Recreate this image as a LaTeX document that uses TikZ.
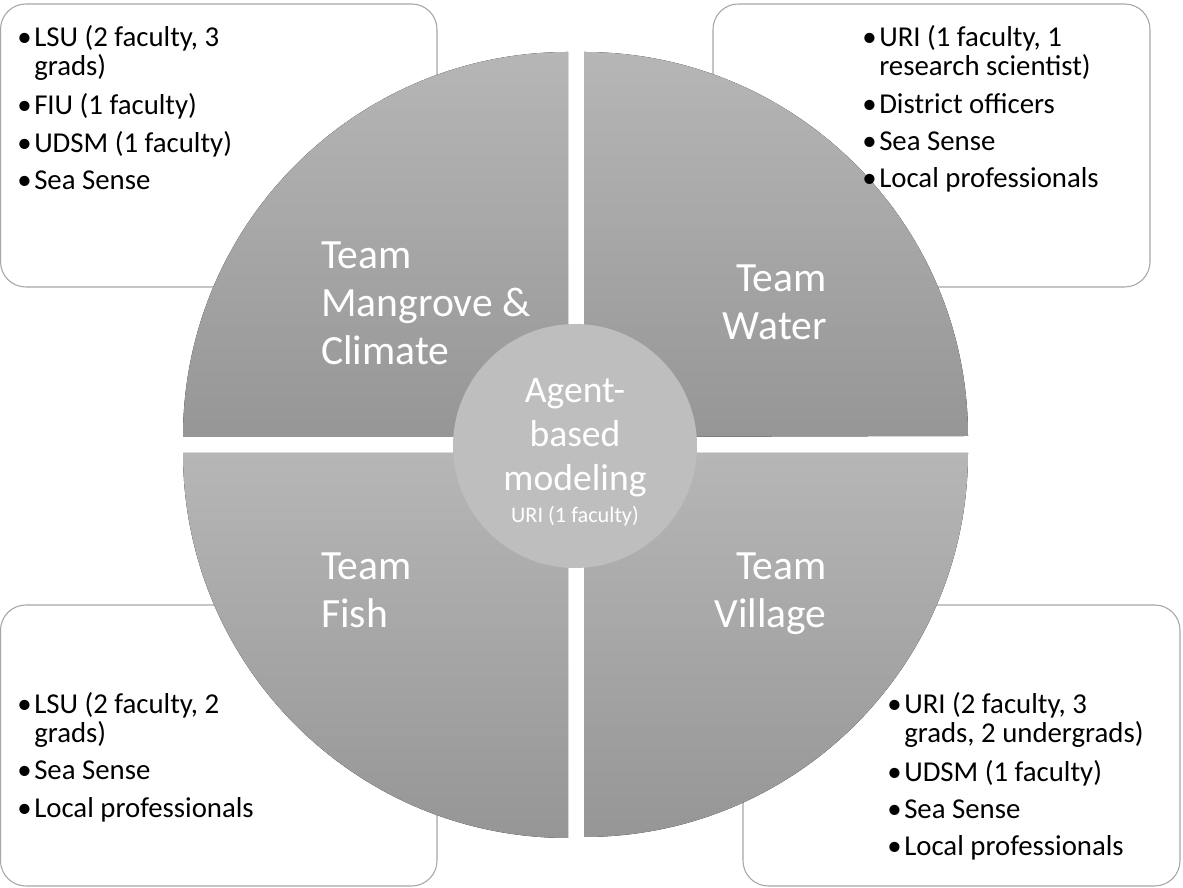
\documentclass[tikz,border=0pt]{standalone}
\usepackage{fontspec}
\setmainfont{Carlito}
\usepackage{xcolor}
\usetikzlibrary{positioning}
\definecolor{quadtop}{HTML}{B6B6B6}
\definecolor{quadbot}{HTML}{969696}
\definecolor{hubgray}{HTML}{BEBEBE}
\definecolor{boxline}{HTML}{A6A6A6}
\newcommand{\bul}{\makebox[12.75pt][l]{\textbullet}}

\begin{document}
\begin{tikzpicture}[
			     x=0.75pt, y=0.75pt,
			     groupbox/.style={draw=boxline, line width=0.8pt, fill=white, rounded corners=19pt},
			     quadrant/.style={top color=quadtop, bottom color=quadbot, draw=none},
			     teamlabel/.style={text=white, font=\fontsize{31.2}{36}\selectfont, inner sep=0pt},
			     memberlist/.style={font=\fontsize{21.6}{21}\selectfont, inner sep=0pt, anchor=north west},
			     hubtext/.style={text=white, font=\fontsize{28.2}{33}\selectfont, align=center, inner sep=0pt},
			     hubnote/.style={text=white, font=\fontsize{16.7}{18}\selectfont, inner sep=0pt}
			     ]
\useasboundingbox (0,0) rectangle (1183,888);
% member boxes behind the wheel
\draw[groupbox] (0.5,601) rectangle (437,884);
\draw[groupbox] (713,601) rectangle (1150,884);
\draw[groupbox] (0.5,2) rectangle (437,283);
\draw[groupbox] (743,2) rectangle (1180,283);
%
% the four quarters
\fill[quadrant] (568,451) -- ++(-385,0) arc[start angle=180, end angle=90, radius=385] -- cycle;
\fill[quadrant] (584,451) -- ++(0,385) arc[start angle=90, end angle=0, radius=384] -- cycle;
\fill[quadrant] (568,435) -- ++(0,-385) arc[start angle=270, end angle=180, radius=385] -- cycle;
\fill[quadrant] (584,435) -- ++(384,0) arc[start angle=0, end angle=-90, radius=384] -- cycle;
%
% hub
\fill[hubgray] (575,442) circle[radius=122];
\node[hubtext] (hub) at (575,450) {Agent-\\based\\modeling};
\node[hubnote, below=6pt of hub] (hubnote) {URI (1 faculty)};
%
% team names
\node[teamlabel, align=left, anchor=west] (mangrove) at (321,585) {Team\\Mangrove \&\\Climate};
\node[teamlabel, align=right, anchor=east] (water) at (827,586) {Team\\Water};
\node[teamlabel, align=left, anchor=west] (fish) at (321,298) {Team\\Fish};
\node[teamlabel, align=right, anchor=east] (village) at (827,294) {Team\\Village};
%
% members
\node[memberlist] (mangrovelist) at (17,863) {\begin{tabular}{@{}l@{}}
\bul LSU (2 faculty, 3\\ \hspace*{12.75pt}grads)\\[6.75pt]
\bul FIU (1 faculty)\\[6.75pt]
\bul UDSM (1 faculty)\\[6.75pt]
\bul Sea Sense
\end{tabular}};
\node[memberlist] (waterlist) at (862,863) {\begin{tabular}{@{}l@{}}
\bul URI (1 faculty, 1\\ \hspace*{12.75pt}research scientist)\\[6.75pt]
\bul District officers\\[6.75pt]
\bul Sea Sense\\[6.75pt]
\bul Local professionals
\end{tabular}};
\node[memberlist] (fishlist) at (17,196) {\begin{tabular}{@{}l@{}}
\bul LSU (2 faculty, 2\\ \hspace*{12.75pt}grads)\\[6.75pt]
\bul Sea Sense\\[6.75pt]
\bul Local professionals
\end{tabular}};
\node[memberlist] (villagelist) at (887,196) {\begin{tabular}{@{}l@{}}
\bul URI (2 faculty, 3\\ \hspace*{12.75pt}grads, 2 undergrads)\\[6.75pt]
\bul UDSM (1 faculty)\\[6.75pt]
\bul Sea Sense\\[6.75pt]
\bul Local professionals
\end{tabular}};
\end{tikzpicture}
\end{document}
